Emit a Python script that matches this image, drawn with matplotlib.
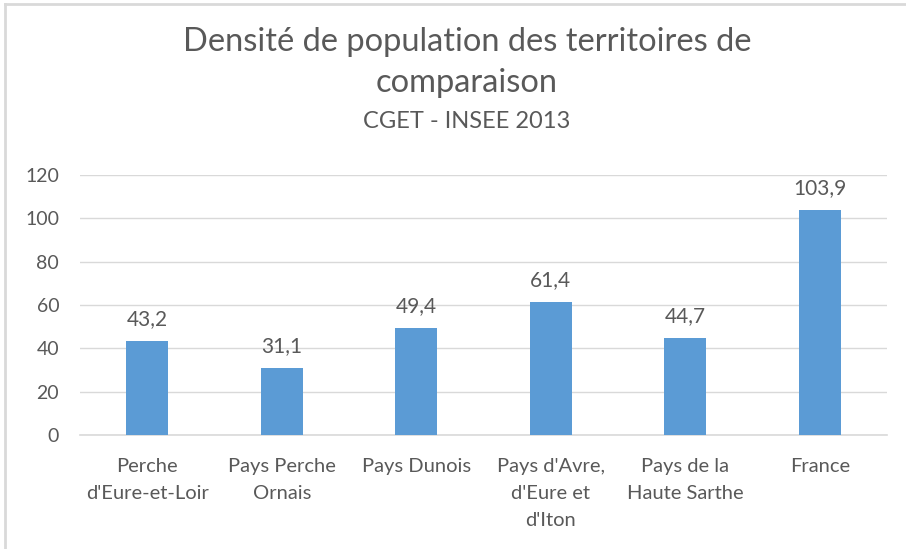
import matplotlib.pyplot as plt
from matplotlib.lines import Line2D

categories = ["Perche\nd'Eure-et-Loir", "Pays Perche\nOrnais", "Pays Dunois",
              "Pays d'Avre,\nd'Eure et\nd'Iton", "Pays de la\nHaute Sarthe", "France"]
densities = [43.2, 31.1, 49.4, 61.4, 44.7, 103.9]
y_ticks = [0, 20, 40, 60, 80, 100, 120]

bar_color = '#5B9BD5'
text_color = '#595959'
plt.rcParams['font.family'] = ['Lato', 'DejaVu Sans']

fig = plt.figure(figsize=(9.06, 5.49), dpi=100)
ax = fig.add_axes([80 / 906, 1 - 435 / 549, 807 / 906, 260 / 549])

x = range(len(categories))
ax.bar(x, densities, width=0.31, color=bar_color, zorder=3)
for xi, v in zip(x, densities):
    ax.annotate(f"{v:.1f}".replace('.', ','), (xi, v), xytext=(0, 11.5),
                textcoords='offset points', ha='center', va='baseline',
                fontsize=15, color=text_color)

ax.set_xlim(-0.5, len(categories) - 0.5)
ax.set_ylim(0, 120)
ax.set_yticks(y_ticks)
ax.set_xticks(list(x))
ax.set_xticklabels(categories, fontsize=14.5, color=text_color, linespacing=1.7, va='top')
ax.tick_params(axis='y', labelsize=14, labelcolor=text_color, length=0, pad=15)
ax.tick_params(axis='x', length=0, pad=16.5)
ax.grid(axis='y', color='#D9D9D9', linewidth=1, zorder=0)
for s in ['top', 'right', 'left']:
    ax.spines[s].set_visible(False)
ax.spines['bottom'].set_color('#D9D9D9')
ax.spines['bottom'].set_linewidth(1.2)

title_x = 467 / 906
fig.text(title_x, 1 - 42 / 549, "Densité de population des territoires de", ha='center', va='center',
         fontsize=23.5, color=text_color)
fig.text(title_x, 1 - 83 / 549, "comparaison", ha='center', va='center',
         fontsize=23.5, color=text_color)
fig.text(title_x, 1 - 121 / 549, "CGET - INSEE 2013", ha='center', va='center',
         fontsize=17, color=text_color)

# partial chart border (top and left edges visible)
fig.add_artist(Line2D([5 / 906, 1], [1 - 4 / 549, 1 - 4 / 549], transform=fig.transFigure,
                      color='#D9D9D9', linewidth=2))
fig.add_artist(Line2D([5 / 906, 5 / 906], [0, 1 - 4 / 549], transform=fig.transFigure,
                      color='#D9D9D9', linewidth=2))

fig.savefig('out.png', dpi=100)
